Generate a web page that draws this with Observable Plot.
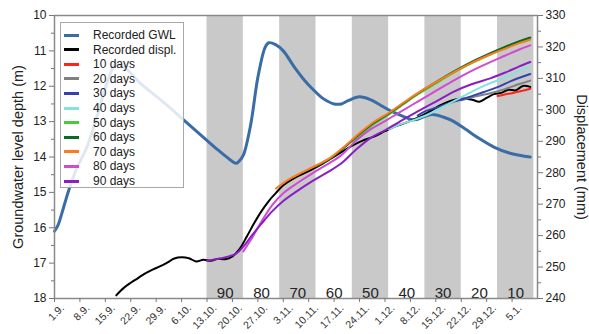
<!DOCTYPE html>
<html><head><meta charset="utf-8">
<script src="https://cdn.jsdelivr.net/npm/d3@7"></script>
<script src="https://cdn.jsdelivr.net/npm/@observablehq/plot@0.6"></script>
<style>
body{margin:0;background:#fff;font-family:"Liberation Sans",Arial,sans-serif;}
#wrap{position:relative;width:589px;height:334px;}
#legend{position:absolute;left:60px;top:22px;width:124px;height:166px;background:rgba(255,255,255,0.84);border:1px solid #a8a8a8;box-sizing:border-box;}
.row{position:absolute;left:0;width:120px;height:14px;font-size:12px;color:#222;}
.sw{position:absolute;left:3px;top:5.5px;width:15px;height:3px;}
.lbl{position:absolute;left:32px;top:0;white-space:nowrap;line-height:14px;}
</style></head>
<body><div id="wrap"></div>
<script>
// ---- data ----
const gwl = [["2018-09-01",16.1],["2018-09-02",15.92],["2018-09-03",15.6],["2018-09-04",15.25],["2018-09-05",14.92],["2018-09-07",14.35],["2018-09-10",13.7],["2018-09-13",12.75],["2018-09-15",12.05],["2018-09-17",11.5],["2018-09-18",11.38],["2018-09-20",11.45],["2018-09-25",11.95],["2018-10-01",12.45],["2018-10-06",12.9],["2018-10-11",13.35],["2018-10-16",13.8],["2018-10-19",14.05],["2018-10-21",14.18],["2018-10-22",14.1],["2018-10-23",13.95],["2018-10-25",13.1],["2018-10-27",11.75],["2018-10-29",10.9],["2018-10-30",10.77],["2018-11-01",10.83],["2018-11-03",11.0],["2018-11-06",11.45],["2018-11-09",11.85],["2018-11-11",12.07],["2018-11-14",12.35],["2018-11-17",12.5],["2018-11-19",12.5],["2018-11-21",12.4],["2018-11-24",12.3],["2018-11-27",12.38],["2018-11-30",12.55],["2018-12-03",12.72],["2018-12-06",12.85],["2018-12-09",12.95],["2018-12-12",12.85],["2018-12-14",12.8],["2018-12-17",12.87],["2018-12-20",13.0],["2018-12-23",13.2],["2018-12-27",13.48],["2018-12-31",13.72],["2019-01-04",13.88],["2019-01-08",13.97],["2019-01-10",14.0]];

const recorded = [["2018-09-18",241.0],["2018-09-20",243.3],["2018-09-22",245.0],["2018-09-24",246.5],["2018-09-26",248.0],["2018-09-28",249.2],["2018-09-30",250.2],["2018-10-02",251.4],["2018-10-04",252.7],["2018-10-06",253.1],["2018-10-08",252.8],["2018-10-10",251.8],["2018-10-12",252.3],["2018-10-14",252.0],["2018-10-16",252.6],["2018-10-18",252.5],["2018-10-20",253.4],["2018-10-22",255.8],["2018-10-24",259.8],["2018-10-26",264.0],["2018-10-28",267.8],["2018-10-30",271.0],["2018-11-01",273.6],["2018-11-03",276.0],["2018-11-06",278.3],["2018-11-10",280.5],["2018-11-14",283.0],["2018-11-18",285.8],["2018-11-22",288.6],["2018-11-25",290.3],["2018-11-28",291.5],["2018-12-01",293.2],["2018-12-04",294.8],["2018-12-07",296.0],["2018-12-10",297.5],["2018-12-13",299.3],["2018-12-16",301.3],["2018-12-19",302.8],["2018-12-22",303.6],["2018-12-25",303.2],["2018-12-27",302.6],["2018-12-29",303.8],["2018-12-31",305.0],["2019-01-02",305.4],["2019-01-04",306.4],["2019-01-06",306.2],["2019-01-08",307.6],["2019-01-10",307.3]];

const f10 = [["2019-01-01",304.4],["2019-01-03",304.9],["2019-01-05",305.3],["2019-01-07",305.8],["2019-01-10",306.7]];
const f20 = [["2018-12-22",303.0],["2018-12-26",304.3],["2018-12-30",305.3],["2019-01-03",306.6],["2019-01-07",308.2],["2019-01-10",309.3]];
const f30 = [["2018-12-10",298.2],["2018-12-12",299.5],["2018-12-16",301.0],["2018-12-20",302.6],["2018-12-24",304.0],["2018-12-28",305.6],["2019-01-01",307.2],["2019-01-05",309.3],["2019-01-10",311.4]];
const f40 = [["2018-12-02",293.8],["2018-12-05",295.3],["2018-12-09",296.8],["2018-12-13",298.6],["2018-12-17",301.0],["2018-12-21",303.4],["2018-12-25",305.8],["2018-12-29",308.0],["2019-01-02",309.8],["2019-01-06",311.8],["2019-01-10",313.7]];
const f50 = [["2018-11-22",290.0],["2018-11-24",291.8],["2018-11-28",295.5],["2018-12-02",298.5],["2018-12-06",301.7],["2018-12-10",304.9],["2018-12-15",308.4],["2018-12-20",311.8],["2018-12-25",314.9],["2018-12-30",317.6],["2019-01-03",319.6],["2019-01-07",321.4],["2019-01-10",322.5]];
const f60 = [["2018-11-12",282.0],["2018-11-16",284.5],["2018-11-20",288.2],["2018-11-24",292.3],["2018-11-28",295.9],["2018-12-02",298.8],["2018-12-06",302.0],["2018-12-10",305.2],["2018-12-15",308.8],["2018-12-20",312.2],["2018-12-25",315.3],["2018-12-30",318.0],["2019-01-03",320.0],["2019-01-07",321.8],["2019-01-10",323.0]];
const f70 = [["2018-11-01",275.0],["2018-11-04",277.5],["2018-11-08",280.0],["2018-11-12",282.3],["2018-11-16",284.8],["2018-11-20",288.5],["2018-11-24",292.6],["2018-11-28",296.2],["2018-12-02",299.0],["2018-12-06",302.2],["2018-12-10",305.3],["2018-12-15",308.8],["2018-12-20",312.0],["2018-12-25",315.0],["2018-12-30",317.6],["2019-01-03",319.4],["2019-01-07",321.2],["2019-01-10",322.3]];
const f80 = [["2018-10-23",255.0],["2018-10-25",258.5],["2018-10-28",264.5],["2018-10-31",269.8],["2018-11-03",273.5],["2018-11-07",276.8],["2018-11-11",279.8],["2018-11-15",282.6],["2018-11-19",285.6],["2018-11-23",290.2],["2018-11-27",293.8],["2018-12-01",296.4],["2018-12-05",299.2],["2018-12-10",302.6],["2018-12-15",306.0],["2018-12-20",309.4],["2018-12-25",312.5],["2018-12-30",315.2],["2019-01-03",317.2],["2019-01-07",319.2],["2019-01-10",320.5]];
const f90 = [["2018-10-13",252.0],["2018-10-16",252.6],["2018-10-19",253.4],["2018-10-21",254.3],["2018-10-23",256.5],["2018-10-25",259.5],["2018-10-28",263.8],["2018-10-31",267.8],["2018-11-03",271.0],["2018-11-07",274.3],["2018-11-11",277.3],["2018-11-15",280.0],["2018-11-19",283.0],["2018-11-23",287.3],["2018-11-27",291.0],["2018-12-01",293.5],["2018-12-05",296.2],["2018-12-10",299.5],["2018-12-15",302.6],["2018-12-20",305.8],["2018-12-25",308.2],["2018-12-30",310.0],["2019-01-03",311.8],["2019-01-07",313.8],["2019-01-10",315.2]];

const seriesNames = ["Recorded GWL","Recorded displ.","10 days","20 days","30 days","40 days","50 days","60 days","70 days","80 days","90 days"];
const seriesColors = ["#3a6ca6","#000000","#ff2418","#808080","#3342b0","#86e2dc","#44cc3a","#0b6a24","#ff7a1e","#d04ad2","#8a1ec4"];
const forecasts = [f10,f20,f30,f40,f50,f60,f70,f80,f90];

const bandStarts = ["2018-10-13","2018-10-23","2018-11-02","2018-11-12","2018-11-22","2018-12-02","2018-12-12","2018-12-22","2019-01-01"];
const bandEnds   = ["2018-10-23","2018-11-02","2018-11-12","2018-11-22","2018-12-02","2018-12-12","2018-12-22","2019-01-01","2019-01-11"];
const bandLabels = ["90","80","70","60","50","40","30","20","10"];
const bandShaded = [true,false,true,false,true,false,true,false,true];

const xTickDates = ["2018-09-01","2018-09-08","2018-09-15","2018-09-22","2018-09-29","2018-10-06","2018-10-13","2018-10-20","2018-10-27","2018-11-03","2018-11-10","2018-11-17","2018-11-24","2018-12-01","2018-12-08","2018-12-15","2018-12-22","2018-12-29","2019-01-05"];
const xTickLabels = ["1.9.","8.9.","15.9.","22.9.","29.9.","6.10.","13.10.","20.10.","27.10.","3.11.","10.11.","17.11.","24.11.","1.12.","8.12.","15.12.","22.12.","29.12.","5.1."];
const leftTicks = [10,11,12,13,14,15,16,17,18];
const leftMinor = [10.5,11.5,12.5,13.5,14.5,15.5,16.5,17.5];
const rightTicks = [240,250,260,270,280,290,300,310,320,330];
const rightMinor = [245,255,265,275,285,295,305,315,325];

// ---- helpers: displacement (right axis) expressed on the depth scale ----
const D = s => new Date(s);
const toDepth = mm => 10 + (330 - mm) * 8 / 90;
const toMM = d => Math.round(330 - (d - 10) * 90 / 8);

const bands = bandStarts.map((s,i)=>({s:D(s), e:D(bandEnds[i]), label:bandLabels[i], shaded:bandShaded[i], mid:new Date((D(s).getTime()+D(bandEnds[i]).getTime())/2)}));
const ticks = xTickDates.map((s,i)=>({d:D(s), label:xTickLabels[i]}));

const dispLine = (data, color, w) => Plot.line(data, {x: d=>D(d[0]), y: d=>toDepth(d[1]), stroke: color, strokeWidth: w, curve: "catmull-rom"});

const chart = Plot.plot({
  width: 589, height: 334,
  marginTop: 15, marginBottom: 36, marginLeft: 54, marginRight: 52,
  style: {fontFamily: '"Liberation Sans", Arial, sans-serif', background: "#fff", color: "#222"},
  x: {type: "utc", domain: [D("2018-09-01"), D("2019-01-12")], axis: null},
  y: {domain: [18, 10], axis: null},
  marks: [
    Plot.rect(bands.filter(b=>b.shaded), {x1: "s", x2: "e", fill: "#c9c9c9"}),
    Plot.text(bands, {x: "mid", text: "label", frameAnchor: "bottom", lineAnchor: "bottom", dy: -1, fontSize: 15, fill: "#222"}),
    Plot.line(gwl, {x: d=>D(d[0]), y: d=>d[1], stroke: seriesColors[0], strokeWidth: 3, curve: "catmull-rom"}),
    dispLine(recorded, seriesColors[1], 2),
    ...forecasts.map((f,i)=>dispLine(f, seriesColors[i+2], 2)),
    Plot.frame({stroke: "#8a8a8a", strokeWidth: 1.5}),
    // left axis
    Plot.axisY({ticks: leftTicks, anchor: "left", tickSize: 5, tickPadding: 3, fontSize: 12, label: null, stroke: "#777"}),
    Plot.axisY({ticks: leftMinor, anchor: "left", tickSize: 3, tickFormat: () => "", label: null, stroke: "#777"}),
    // right axis (displacement)
    Plot.axisY({ticks: rightTicks.map(toDepth), anchor: "right", tickSize: 5, tickPadding: 3, fontSize: 12, tickFormat: toMM, label: null, stroke: "#777"}),
    Plot.axisY({ticks: rightMinor.map(toDepth), anchor: "right", tickSize: 3, tickFormat: () => "", label: null, stroke: "#777"}),
    // bottom axis
    Plot.axisX({ticks: ticks.map(t=>t.d), anchor: "bottom", tickSize: 4, tickFormat: () => "", label: null, stroke: "#777"}),
    Plot.text(ticks, {x: "d", text: "label", frameAnchor: "bottom", rotate: -45, textAnchor: "end", lineAnchor: "top", dx: 5, dy: 5, fontSize: 10.5, fill: "#333"}),
    // axis titles
    Plot.text(["Groundwater level depth (m)"], {frameAnchor: "left", textAnchor: "middle", rotate: -90, dx: -36, fontSize: 14.5, fill: "#222"}),
    Plot.text(["Displacement (mm)"], {frameAnchor: "right", textAnchor: "middle", rotate: 90, dx: 44, fontSize: 14.5, fill: "#222"})
  ]
});

const wrap = document.getElementById("wrap");
wrap.appendChild(chart);

// legend box
const lg = document.createElement("div");
lg.id = "legend";
seriesNames.forEach((n,i)=>{
  const r = document.createElement("div");
  r.className = "row";
  r.style.top = (5 + i*14.6) + "px";
  const sw = document.createElement("div");
  sw.className = "sw"; sw.style.background = seriesColors[i];
  const t = document.createElement("div");
  t.className = "lbl"; t.textContent = n;
  r.appendChild(sw); r.appendChild(t); lg.appendChild(r);
});
wrap.appendChild(lg);
</script></body></html>
